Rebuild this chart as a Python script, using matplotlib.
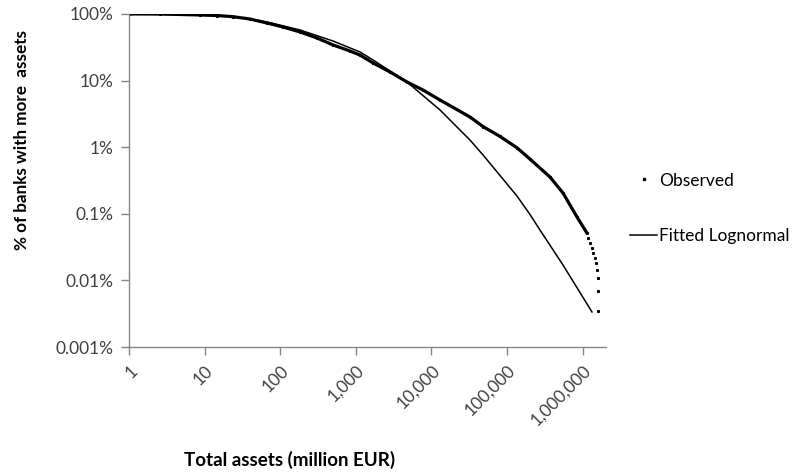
import matplotlib.pyplot as plt
import matplotlib.ticker as mticker

plt.rcParams['font.family'] = ['Lato', 'DejaVu Sans']

# Observed distribution (complementary CDF)
obs_x = [1, 2.6, 8.7, 14.6, 23.8, 39.8, 66.9, 109, 183, 307, 499, 838, 1137,
         1690, 2830, 4750, 7740, 13000, 32400, 48200, 80800, 135500, 201000,
         370000, 551000, 844000, 1140000]
obs_y = [1.0, 1.0, 0.966, 0.949, 0.911, 0.841, 0.732, 0.638, 0.537, 0.436,
         0.343, 0.278, 0.242, 0.184, 0.135, 0.0953, 0.0722, 0.0511, 0.0284,
         0.0204, 0.0145, 0.0098, 0.00665, 0.00357, 0.00205, 0.000895,
         0.000515]
# sparse tail of the observed points (largest banks)
tail_x = [1180000, 1250000, 1330000, 1370000, 1460000, 1500000, 1550000,
          1600000, 1600000, 1600000]
tail_y = [0.000433, 0.000365, 0.000306, 0.000258, 0.000217, 0.000182,
          0.000143, 0.000109, 0.0000693, 0.0000348]

# Fitted lognormal
fit_x = [1, 8.7, 23.8, 66.9, 183, 499, 1137, 1690, 4750, 13000, 32400, 48200,
         135500, 201000, 273000, 551000, 1330000]
fit_y = [1.0, 0.966, 0.917, 0.759, 0.575, 0.393, 0.269, 0.204, 0.0953, 0.0362,
         0.0128, 0.00764, 0.00185, 0.00098, 0.000571, 0.00017, 0.0000336]

x_ticks = [1, 10, 100, 1000, 10000, 100000, 1000000]
y_ticks = [0.00001, 0.0001, 0.001, 0.01, 0.1, 1]
y_labels = ['0.001%', '0.01%', '0.1%', '1%', '10%', '100%']

fig = plt.figure(figsize=(8.08, 4.76), dpi=100)
ax = fig.add_axes([0.1597, 0.271, 0.5903, 0.6996])

ax.plot(obs_x, obs_y, color='black', lw=2.3, solid_capstyle='round')
ax.plot(obs_x + tail_x, obs_y + tail_y, ls='none', marker='s', ms=1.2,
        color='black', label='Observed')
ax.plot(fit_x, fit_y, color='black', lw=1.1, label='Fitted Lognormal')

ax.set_xscale('log')
ax.set_yscale('log')
ax.set_xlim(1, 2040000)
ax.set_ylim(0.00001, 1)

ax.set_xticks(x_ticks)
ax.set_yticks(y_ticks)
ax.xaxis.set_minor_locator(mticker.NullLocator())
ax.yaxis.set_minor_locator(mticker.NullLocator())
ax.set_xticklabels([f'{v:,}' for v in x_ticks], rotation=45, ha='right',
                   va='top', rotation_mode='anchor')
ax.set_yticklabels(y_labels)

for side in ['top', 'right']:
    ax.spines[side].set_visible(False)
for side in ['left', 'bottom']:
    ax.spines[side].set_color('#868686')
    ax.spines[side].set_linewidth(1.0)
ax.tick_params(axis='both', direction='out', length=6, width=1.0,
               color='#868686', labelcolor='#404040', labelsize=12.5, pad=5)

fig.text(290 / 808, 1 - 460 / 476, 'Total assets (million EUR)',
         ha='center', va='center', fontsize=13.5, fontweight='bold')
fig.text(22 / 808, 1 - 140 / 476, '% of banks with more  assets',
         ha='center', va='center', rotation=90, fontsize=12.3, fontweight='bold')

ax.legend(loc='center left', bbox_to_anchor=(0.760, 0.562),
          bbox_transform=fig.transFigure, frameon=False, fontsize=12.5,
          labelspacing=2.3, handlelength=1.6, handletextpad=0.1,
          markerscale=1.2)

fig.savefig('out.png', dpi=100)
